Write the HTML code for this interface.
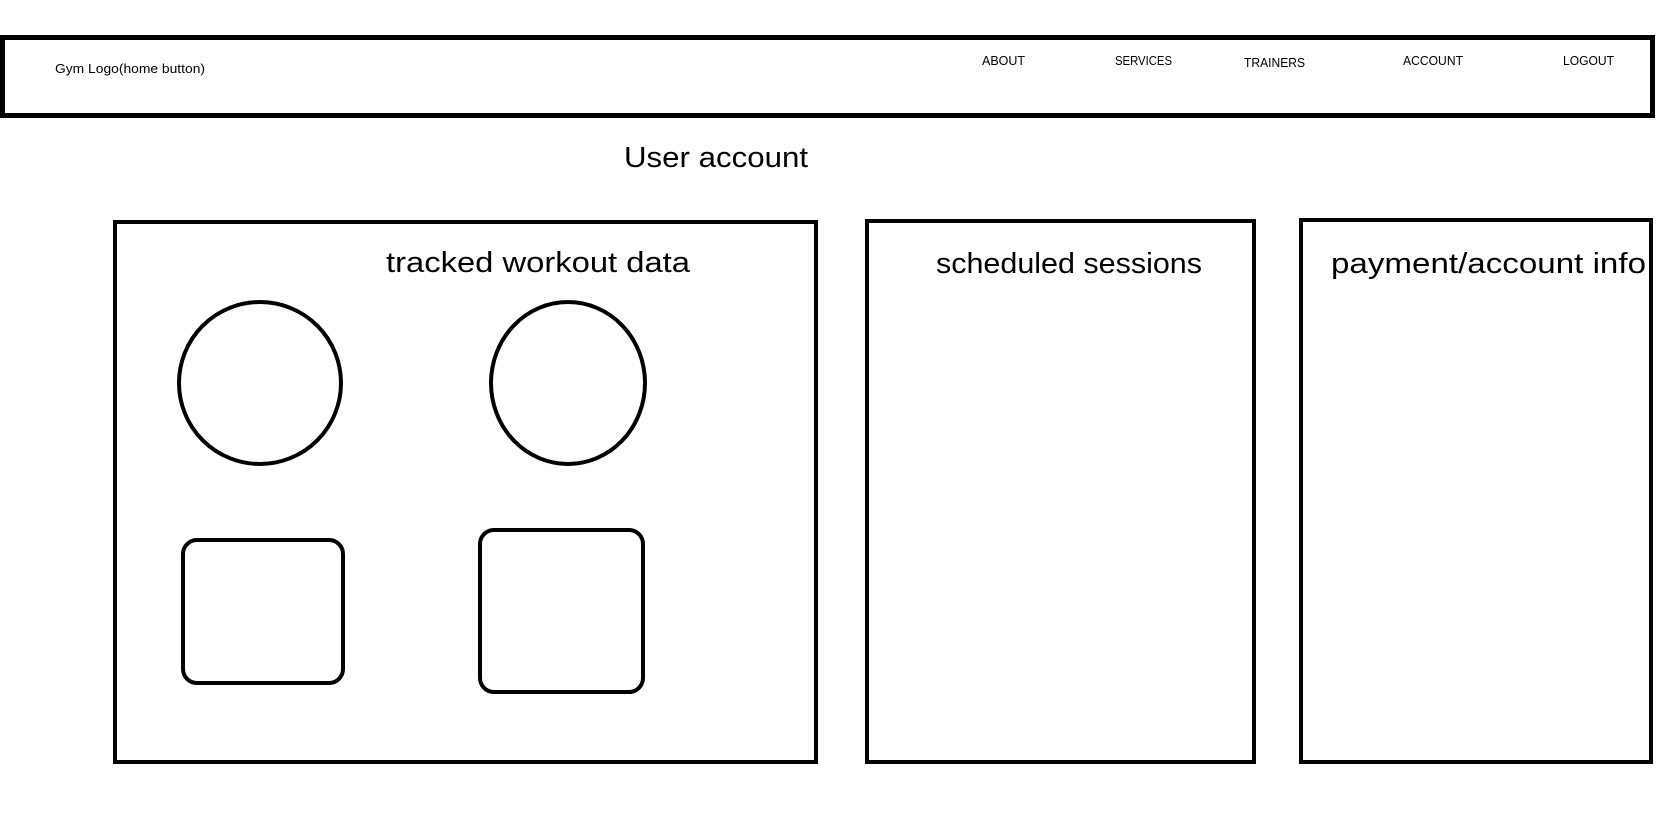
<!DOCTYPE html>
<html><head><meta charset="utf-8"><style>
html,body{margin:0;padding:0;background:#fff;width:1677px;height:824px;overflow:hidden}
svg{display:block}
text{font-family:"Liberation Sans",sans-serif;fill:#000}
</style></head><body>
<svg width="1677" height="824" viewBox="0 0 1677 824">
<rect x="2.5" y="37.5" width="1650" height="78" fill="none" stroke="#000" stroke-width="5"/>
<text x="55" y="73" font-size="13" textLength="150" lengthAdjust="spacingAndGlyphs">Gym Logo(home button)</text>
<text x="982" y="65" font-size="12.5">ABOUT</text>
<text x="1115" y="65" font-size="12.5" textLength="57" lengthAdjust="spacingAndGlyphs">SERVICES</text>
<text x="1244" y="67" font-size="12.5" textLength="61" lengthAdjust="spacingAndGlyphs">TRAINERS</text>
<text x="1403" y="65" font-size="12.5" textLength="60" lengthAdjust="spacingAndGlyphs">ACCOUNT</text>
<text x="1563" y="65" font-size="12.5" textLength="51" lengthAdjust="spacingAndGlyphs">LOGOUT</text>
<text x="624" y="167" font-size="29" textLength="184" lengthAdjust="spacingAndGlyphs">User account</text>
<rect x="115" y="222" width="701" height="540" fill="none" stroke="#000" stroke-width="4"/>
<text x="386" y="272" font-size="29" textLength="304" lengthAdjust="spacingAndGlyphs">tracked workout data</text>
<ellipse cx="260" cy="383" rx="81" ry="81" fill="none" stroke="#000" stroke-width="4"/>
<ellipse cx="568" cy="383" rx="77" ry="81" fill="none" stroke="#000" stroke-width="4"/>
<rect x="183" y="540" width="160" height="143" rx="14" fill="none" stroke="#000" stroke-width="4"/>
<rect x="480" y="530" width="163" height="162" rx="14" fill="none" stroke="#000" stroke-width="4"/>
<rect x="867" y="221" width="387" height="541" fill="none" stroke="#000" stroke-width="4"/>
<text x="936" y="273" font-size="29" textLength="266" lengthAdjust="spacingAndGlyphs">scheduled sessions</text>
<rect x="1301" y="220" width="350" height="542" fill="none" stroke="#000" stroke-width="4"/>
<text x="1331" y="273" font-size="29" textLength="315" lengthAdjust="spacingAndGlyphs">payment/account info</text>
</svg>
</body></html>
